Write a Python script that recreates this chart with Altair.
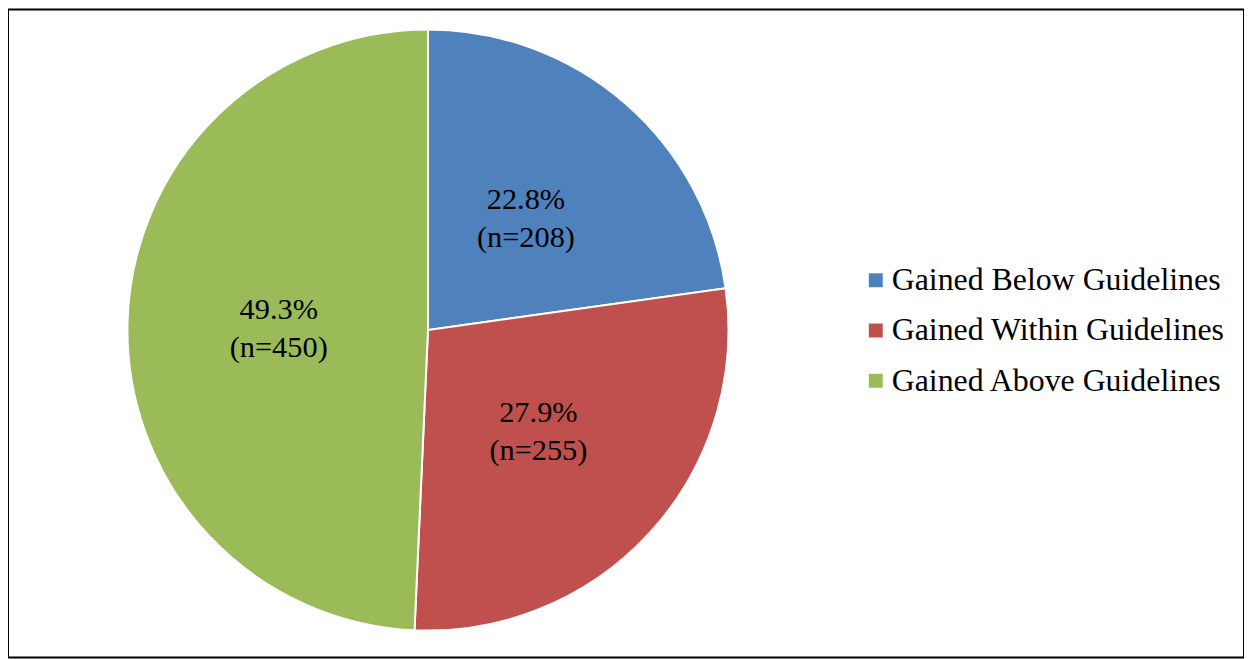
import altair as alt
import pandas as pd

categories = ["Gained Below Guidelines", "Gained Within Guidelines", "Gained Above Guidelines"]
counts = [208, 255, 450]
percents = ["22.8%", "27.9%", "49.3%"]
colors = ["#4F81BD", "#C0504D", "#9BBB59"]

df = pd.DataFrame({
    "category": categories,
    "count": counts,
    "order": list(range(len(categories))),
    "label": [f"{p}\n(n={c})" for p, c in zip(percents, counts)],
})

CX, CY = 422, 322
FONT = "Liberation Serif"

base = alt.Chart(df).encode(
    theta=alt.Theta("count:Q", stack=True),
    order=alt.Order("order:Q"),
    x=alt.value(CX),
    y=alt.value(CY),
)

pie = base.mark_arc(outerRadius=302, stroke="white", strokeWidth=2).encode(
    color=alt.Color(
        "category:N",
        sort=categories,
        scale=alt.Scale(domain=categories, range=colors),
        legend=alt.Legend(
            title=None,
            orient="none",
            legendX=856,
            legendY=256,
            symbolType="square",
            symbolSize=196,
            symbolStrokeWidth=0,
            labelFont=FONT,
            labelFontSize=32,
            labelColor="black",
            labelLimit=500,
            labelOffset=0,
            rowPadding=18.5,
        ),
    )
)

text = base.mark_text(
    radius=150, font=FONT, fontSize=30.5, lineBreak="\n", lineHeight=38,
    baseline="middle", align="center", dy=-17,
).encode(text="label:N", color=alt.value("black"))

chart = (pie + text).properties(width=1242, height=651, padding=0).configure_view(
    stroke="black", strokeWidth=2
)

chart.save("out.html", embed_options={"renderer": "svg", "actions": False})
